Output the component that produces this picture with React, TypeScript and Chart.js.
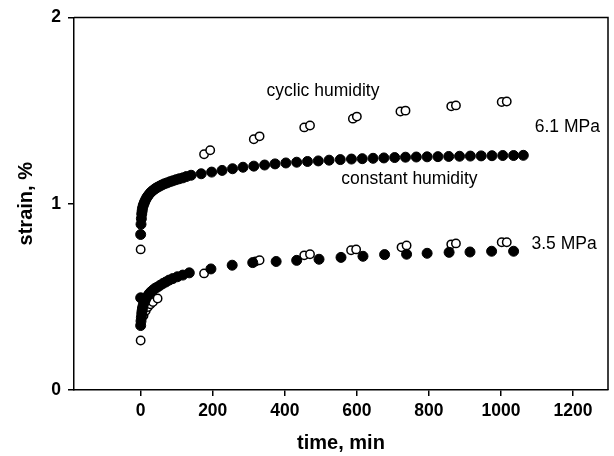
import { useEffect, useRef } from "react";
import { Chart, registerables } from "chart.js";

Chart.register(...registerables);

const xTickValues = [0, 200, 400, 600, 800, 1000, 1200];
const yTickValues = [0, 1, 2];

const time61Constant = [0, 1, 2, 3, 4, 5, 7, 9, 11, 14, 17, 20, 24, 28, 32, 37, 42, 47, 53, 59, 66, 73, 81, 89, 98, 107, 117, 127, 140, 168, 197, 226, 255, 284, 314, 344, 373, 403, 433, 463, 493, 523, 554, 585, 615, 645, 675, 705, 735, 765, 795, 825, 855, 885, 915, 945, 975, 1005, 1035, 1062];
const strain61Constant = [0.835, 0.89, 0.92, 0.945, 0.96, 0.975, 0.99, 1.0, 1.01, 1.022, 1.033, 1.042, 1.052, 1.061, 1.068, 1.076, 1.083, 1.089, 1.095, 1.101, 1.107, 1.112, 1.118, 1.123, 1.129, 1.134, 1.139, 1.146, 1.153, 1.161, 1.17, 1.179, 1.188, 1.196, 1.202, 1.208, 1.214, 1.219, 1.223, 1.227, 1.23, 1.234, 1.237, 1.24, 1.242, 1.244, 1.246, 1.248, 1.25, 1.251, 1.252, 1.253, 1.254, 1.255, 1.256, 1.257, 1.258, 1.259, 1.259, 1.26];

const time61Cyclic = [0, 176, 193, 314, 330, 454, 470, 589, 600, 721, 735, 862, 875, 1002, 1016];
const strain61Cyclic = [0.755, 1.266, 1.287, 1.346, 1.362, 1.41, 1.42, 1.457, 1.468, 1.495, 1.5, 1.523, 1.528, 1.546, 1.549];

const time35Constant = [0, 0, 1, 2, 3, 4, 5, 7, 9, 12, 15, 19, 24, 29, 35, 41, 47, 54, 62, 70, 79, 89, 102, 117, 135, 195, 254, 311, 376, 433, 495, 556, 617, 677, 738, 795, 856, 914, 974, 1035];
const strain35Constant = [0.495, 0.346, 0.37, 0.39, 0.41, 0.425, 0.44, 0.455, 0.47, 0.48, 0.492, 0.505, 0.518, 0.528, 0.538, 0.547, 0.553, 0.562, 0.572, 0.58, 0.59, 0.598, 0.608, 0.617, 0.629, 0.65, 0.67, 0.684, 0.69, 0.696, 0.702, 0.712, 0.718, 0.727, 0.729, 0.734, 0.739, 0.741, 0.745, 0.745];

const time35Cyclic = [0, 8, 14, 20, 27, 34, 47, 176, 319, 330, 454, 470, 584, 598, 724, 738, 862, 875, 1002, 1016];
const strain35Cyclic = [0.266, 0.4, 0.425, 0.445, 0.46, 0.472, 0.491, 0.626, 0.69, 0.697, 0.723, 0.729, 0.75, 0.755, 0.766, 0.776, 0.782, 0.787, 0.793, 0.793];

const annotationTexts = ["cyclic humidity", "constant humidity", "6.1 MPa", "3.5 MPa"];
const annotationTimes = [506, 746, 1184, 1175];
const annotationStrains = [1.606, 1.133, 1.41, 0.782];

const FONT = '"Liberation Sans", Arial, Helvetica, sans-serif';

const toPoints = (xs: number[], ys: number[]) => xs.map((x, i) => ({ x, y: ys[i] }));

const framePlugin = {
  id: "frameAndNotes",
  afterDraw(chart: any) {
    const { ctx, chartArea, scales } = chart;
    const { left, top, right, bottom } = chartArea;
    ctx.save();
    ctx.strokeStyle = "#000";
    ctx.lineWidth = 1.5;
    ctx.beginPath();
    ctx.moveTo(left, top);
    ctx.lineTo(right, top);
    ctx.lineTo(right, bottom);
    ctx.stroke();
    ctx.fillStyle = "#000";
    ctx.font = `17.5px ${FONT}`;
    ctx.textAlign = "center";
    ctx.textBaseline = "middle";
    annotationTexts.forEach((t, i) => {
      ctx.fillText(
        t,
        scales.x.getPixelForValue(annotationTimes[i]),
        scales.y.getPixelForValue(annotationStrains[i])
      );
    });
    ctx.restore();
  },
};

export default function App() {
  const ref = useRef<HTMLCanvasElement | null>(null);

  useEffect(() => {
    if (!ref.current) return;
    const filled = {
      showLine: false,
      pointRadius: 5,
      pointBorderWidth: 1,
      pointBackgroundColor: "#000",
      pointBorderColor: "#000",
    };
    const open = {
      showLine: false,
      pointRadius: 4.2,
      pointBorderWidth: 1.5,
      pointBackgroundColor: "#fff",
      pointBorderColor: "#000",
    };
    const chart = new Chart(ref.current, {
      type: "scatter",
      data: {
        datasets: [
          { label: "6.1 MPa constant humidity", data: toPoints(time61Constant, strain61Constant), ...filled },
          { label: "3.5 MPa constant humidity", data: toPoints(time35Constant, strain35Constant), ...filled },
          { label: "6.1 MPa cyclic humidity", data: toPoints(time61Cyclic, strain61Cyclic), ...open },
          { label: "3.5 MPa cyclic humidity", data: toPoints(time35Cyclic, strain35Cyclic), ...open },
        ],
      },
      options: {
        animation: false,
        responsive: false,
        layout: { padding: { left: 0, right: 2, top: 14, bottom: 0 } },
        plugins: { legend: { display: false }, tooltip: { enabled: false } },
        scales: {
          x: {
            type: "linear",
            position: "bottom",
            min: -185,
            max: 1297,
            afterBuildTicks: (s: any) => {
              s.ticks = xTickValues.map((v) => ({ value: v }));
            },
            afterFit: (s: any) => {
              s.height = 66;
            },
            ticks: {
              autoSkip: false,
              maxRotation: 0,
              color: "#000",
              padding: 5,
              font: { family: FONT, size: 17.5, weight: "bold" },
              callback: (v: any) => String(v),
            },
            grid: { drawOnChartArea: false, drawTicks: true, tickLength: 6, color: "#000", lineWidth: 1.5 },
            border: { display: true, color: "#000", width: 1.5 },
            title: {
              display: true,
              text: "time, min",
              color: "#000",
              font: { family: FONT, size: 20, weight: "bold" },
              padding: { top: 0, bottom: 1 },
            },
          },
          y: {
            type: "linear",
            position: "left",
            min: 0,
            max: 2,
            afterBuildTicks: (s: any) => {
              s.ticks = yTickValues.map((v) => ({ value: v }));
            },
            afterFit: (s: any) => {
              s.width = 74;
            },
            ticks: {
              color: "#000",
              padding: 7,
              font: { family: FONT, size: 17.5, weight: "bold" },
              callback: (v: any) => String(v),
            },
            grid: { drawOnChartArea: false, drawTicks: true, tickLength: 6, color: "#000", lineWidth: 1.5 },
            border: { display: true, color: "#000", width: 1.5 },
            title: {
              display: true,
              text: "strain, %",
              color: "#000",
              font: { family: FONT, size: 20, weight: "bold" },
              padding: { top: 14, bottom: 0 },
            },
          },
        },
      },
      plugins: [framePlugin],
    });
    return () => chart.destroy();
  }, []);

  return (
    <div style={{ position: "absolute", left: 0, top: 0, width: 614, height: 456, background: "#fff" }}>
      <canvas ref={ref} width={614} height={456} style={{ display: "block" }} />
    </div>
  );
}
